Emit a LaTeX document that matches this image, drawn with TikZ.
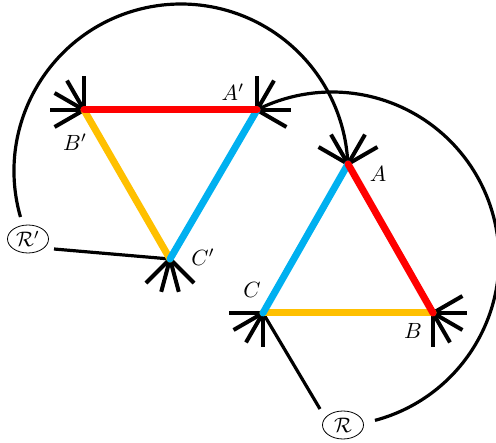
\documentclass[tikz,border=0pt]{standalone}
\usepackage{graphicx}
\usetikzlibrary{calc,shapes.geometric}
\definecolor{ered}{RGB}{255,0,0}
\definecolor{eblue}{RGB}{0,176,240}
\definecolor{eyellow}{RGB}{255,192,0}
\newcommand{\biglbl}[1]{\scalebox{2.2}{$#1$}}
\begin{document}
\begin{tikzpicture}[x=1pt,y=-1pt,
  edge/.style={line width=7pt,line cap=round},
  spike/.style={line width=4pt,black},
  conn/.style={line width=3.2pt,black},
  lbl/.style={inner sep=0pt},
  rot/.style={draw,ellipse,line width=0.8pt,minimum width=41pt,minimum height=28pt,inner sep=0pt}]
\useasboundingbox (0,0) rectangle (496,443);
% vertices
\coordinate (Ap) at (257,110);
\coordinate (Bp) at (84,110);
\coordinate (Cp) at (170,259);
\coordinate (A) at (348,164);
\coordinate (B) at (433,313);
\coordinate (C) at (263,313);
% rotation nodes
\node[rot] (Rp) at (28,239) {\scalebox{2.1}{$\mathcal{R}'$}};
\node[rot] (R) at (343,425) {\scalebox{2.1}{$\mathcal{R}$}};
% arc centres and connector ends
\coordinate (oRp) at (181,171);
\coordinate (oR) at (332,259);
\coordinate (RpArc) at ($(oRp)+(196:167pt)$);
\coordinate (RArc) at ($(oR)+(-75.1:167pt)$);
\coordinate (RpLine) at (54,249);
\coordinate (RLine) at (320,409);
% connectors
\draw[conn] (RpArc) arc[start angle=196,end angle=2.7,radius=167pt];
\draw[conn] (RArc) arc[start angle=-75.1,end angle=116.7,radius=167pt];
\draw[conn] (RpLine) -- (Cp);
\draw[conn] (RLine) -- (C);
% spikes
\foreach \a in {90,60,0,-30} \draw[spike] (Ap) -- ++(\a:34pt);
\foreach \a in {90,120,150,180,210} \draw[spike] (Bp) -- ++(\a:34pt);
\foreach \a in {225,255,285,315} \draw[spike] (Cp) -- ++(\a:34pt);
\foreach \a in {150,120,60,30} \draw[spike] (A) -- ++(\a:34pt);
\foreach \a in {30,0,-30,-60,-90} \draw[spike] (B) -- ++(\a:34pt);
\foreach \a in {180,210,240,270} \draw[spike] (C) -- ++(\a:34pt);
% triangle edges
\draw[edge,eyellow] (Bp) -- (Cp);
\draw[edge,eblue] (Ap) -- (Cp);
\draw[edge,ered] (Bp) -- (Ap);
\draw[edge,eyellow] (C) -- (B);
\draw[edge,eblue] (A) -- (C);
\draw[edge,ered] (A) -- (B);
% labels
\node[lbl] (lAp) at (233,92) {\biglbl{A'}};
\node[lbl] (lBp) at (75,142) {\biglbl{B'}};
\node[lbl] (lCp) at (203,257) {\biglbl{C'}};
\node[lbl] (lA) at (378,174) {\biglbl{A}};
\node[lbl] (lB) at (413,331) {\biglbl{B}};
\node[lbl] (lC) at (252,290) {\biglbl{C}};
\end{tikzpicture}
\end{document}
